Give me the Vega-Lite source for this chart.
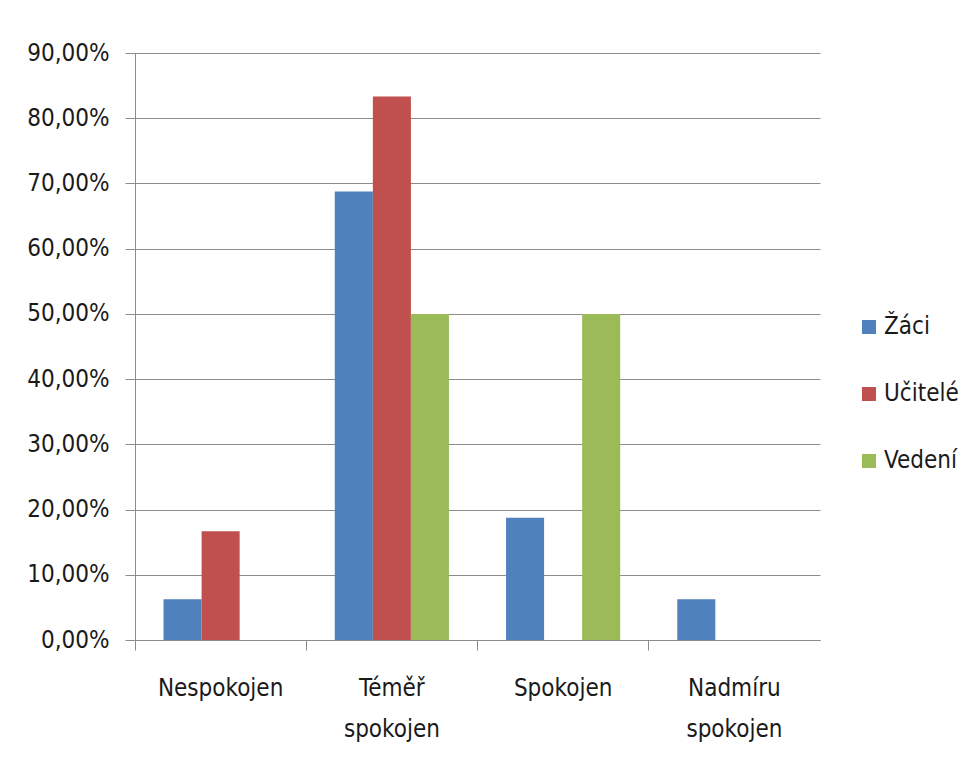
{
  "$schema": "https://vega.github.io/schema/vega-lite/v6.json",
  "width": 685,
  "height": 587,
  "autosize": {"type": "none"},
  "padding": {"left": 135, "top": 53, "right": 156, "bottom": 123},
  "background": "white",
  "data": {
    "values": [
      {"kategorie": "Nespokojen", "skupina": "Žáci", "podil": 0.0625},
      {"kategorie": "Nespokojen", "skupina": "Učitelé", "podil": 0.1667},
      {"kategorie": "Nespokojen", "skupina": "Vedení", "podil": 0},
      {"kategorie": "Téměř spokojen", "skupina": "Žáci", "podil": 0.6875},
      {"kategorie": "Téměř spokojen", "skupina": "Učitelé", "podil": 0.8333},
      {"kategorie": "Téměř spokojen", "skupina": "Vedení", "podil": 0.5},
      {"kategorie": "Spokojen", "skupina": "Žáci", "podil": 0.1875},
      {"kategorie": "Spokojen", "skupina": "Učitelé", "podil": 0},
      {"kategorie": "Spokojen", "skupina": "Vedení", "podil": 0.5},
      {"kategorie": "Nadmíru spokojen", "skupina": "Žáci", "podil": 0.0625},
      {"kategorie": "Nadmíru spokojen", "skupina": "Učitelé", "podil": 0},
      {"kategorie": "Nadmíru spokojen", "skupina": "Vedení", "podil": 0}
    ]
  },
  "mark": {"type": "bar"},
  "encoding": {
    "x": {
      "field": "kategorie",
      "type": "nominal",
      "sort": ["Nespokojen", "Téměř spokojen", "Spokojen", "Nadmíru spokojen"],
      "scale": {"paddingInner": 0, "paddingOuter": 0},
      "axis": {
        "title": null,
        "labelAngle": 0,
        "labelExpr": "split(datum.label, ' ')",
        "labelLineHeight": 41,
        "labelPadding": 26,
        "labelFontSize": 24,
        "labelFont": "DejaVu Sans Condensed",
        "labelColor": "#1a1a1a",
        "bandPosition": 0,
        "tickSize": 10,
        "tickColor": "#8c8c8c",
        "domainColor": "#8c8c8c",
        "grid": false
      }
    },
    "xOffset": {
      "field": "skupina",
      "type": "nominal",
      "sort": ["Žáci", "Učitelé", "Vedení"],
      "scale": {"paddingInner": 0, "paddingOuter": 0.75}
    },
    "y": {
      "field": "podil",
      "type": "quantitative",
      "scale": {"domain": [0, 0.9], "nice": false},
      "axis": {
        "title": null,
        "values": [0, 0.1, 0.2, 0.3, 0.4, 0.5, 0.6, 0.7, 0.8, 0.9],
        "labelExpr": "replace(format(datum.value, '.2%'), '.', ',')",
        "labelFontSize": 24,
        "labelFont": "DejaVu Sans Condensed",
        "labelColor": "#1a1a1a",
        "labelPadding": 16,
        "tickSize": 10,
        "tickColor": "#8c8c8c",
        "domainColor": "#8c8c8c",
        "gridColor": "#8c8c8c",
        "gridWidth": 1
      }
    },
    "color": {
      "field": "skupina",
      "type": "nominal",
      "sort": ["Žáci", "Učitelé", "Vedení"],
      "scale": {"domain": ["Žáci", "Učitelé", "Vedení"], "range": ["#4F81BD", "#C0504D", "#9BBB59"]},
      "legend": {
        "title": null,
        "orient": "none",
        "legendX": 722,
        "legendY": 262,
        "symbolType": "square",
        "symbolSize": 196,
        "symbolStrokeWidth": 0,
        "labelFontSize": 24,
        "labelFont": "DejaVu Sans Condensed",
        "labelColor": "#1a1a1a",
        "labelOffset": 3,
        "rowPadding": 43
      }
    }
  },
  "config": {
    "view": {"stroke": null},
    "axis": {"domainWidth": 1, "tickWidth": 1}
  }
}
